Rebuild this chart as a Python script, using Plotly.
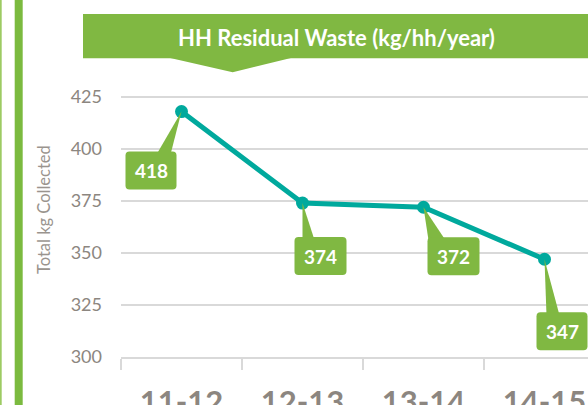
import plotly.graph_objects as go

# ---- data ----
categories = ["11-12", "12-13", "13-14", "14-15"]
values = [418, 374, 372, 347]
y_ticks = [300, 325, 350, 375, 400, 425]
title_text = "HH Residual Waste (kg/hh/year)"
y_title = "Total kg Collected"

# ---- style / layout ----
W, H = 588, 405
ML, MR, MT, MB = 121, 0, 70, 48
PW, PH = W - ML - MR, H - MT - MB
GREEN = "#80B842"
TEAL = "#00A99D"
GRAY = "#8C8680"
GRID = "#D9D9D9"

def px(x):
    return (x - ML) / PW

def py(y):
    return (H - MB - y) / PH

# label boxes: (left, right, top, bottom) in screen px relative to point; wedge base x offsets
box_offsets = [(-56, -5, 40, 78), (-8, 44, 34, 72), (4, 56, 30, 68), (-8, 43, 53, 91)]
wedge_offsets = [(-25, -11), (0, 12), (5, 22), (2, 15)]

fig = go.Figure()
fig.add_trace(go.Scatter(
    x=categories, y=values, mode="lines+markers",
    line=dict(color=TEAL, width=5),
    marker=dict(color=TEAL, size=13),
    hoverinfo="skip", cliponaxis=False,
))

shapes = []
annotations = []

# decorative left bars
shapes.append(dict(type="rect", xref="paper", yref="paper", x0=px(0), x1=px(1.7), y0=py(H), y1=py(0),
                   fillcolor="#9DCB63", line=dict(width=0), layer="above"))
shapes.append(dict(type="rect", xref="paper", yref="paper", x0=px(14.7), x1=px(22.7), y0=py(H), y1=py(0),
                   fillcolor="#7BBA3F", line=dict(width=0), layer="above"))

# title banner
shapes.append(dict(type="rect", xref="paper", yref="paper", x0=px(83), x1=px(W), y0=py(58.3), y1=py(14),
                   fillcolor=GREEN, line=dict(width=0), layer="above"))
shapes.append(dict(type="path", xref="paper", yref="paper",
                   path=f"M {px(168)},{py(57.5)} L {px(232.7)},{py(72.3)} L {px(293)},{py(57.5)} Z",
                   fillcolor=GREEN, line=dict(width=0), layer="above"))
annotations.append(dict(xref="paper", yref="paper", x=px(336), y=py(37.5), text=f"<b>{title_text}</b>",
                        showarrow=False, xanchor="center", yanchor="middle",
                        font=dict(family="Lato", size=22, color="white")))

# y axis title
annotations.append(dict(xref="paper", yref="paper", x=px(44), y=py(210), text=y_title, textangle=-90,
                        showarrow=False, xanchor="center", yanchor="middle",
                        font=dict(family="Lato", size=16.5, color="#9A948E")))

def rounded_rect(x0, x1, t, b, r=4):
    # screen coords (y down) -> pixel offsets (y up)
    T, B = -t, -b
    return (f"M {x0 + r},{T} L {x1 - r},{T} Q {x1},{T} {x1},{T - r} "
            f"L {x1},{B + r} Q {x1},{B} {x1 - r},{B} L {x0 + r},{B} Q {x0},{B} {x0},{B + r} "
            f"L {x0},{T - r} Q {x0},{T} {x0 + r},{T} Z")

for cat, val, (bl, br, bt, bb), (wa, wb) in zip(categories, values, box_offsets, wedge_offsets):
    shapes.append(dict(type="path", xref="x", yref="y", xsizemode="pixel", ysizemode="pixel",
                       xanchor=cat, yanchor=val,
                       path=f"M 0,0 L {wa},{-(bt + 3)} L {wb},{-(bt + 3)} Z",
                       fillcolor=GREEN, line=dict(width=0), layer="above"))
    shapes.append(dict(type="path", xref="x", yref="y", xsizemode="pixel", ysizemode="pixel",
                       xanchor=cat, yanchor=val, path=rounded_rect(bl, br, bt, bb),
                       fillcolor=GREEN, line=dict(width=0), layer="above"))
    annotations.append(dict(x=cat, y=val, xref="x", yref="y", text=f"<b>{val}</b>", showarrow=False,
                            xshift=(bl + br) / 2, yshift=-(bt + bb) / 2,
                            xanchor="center", yanchor="middle",
                            font=dict(family="Lato", size=19, color="white")))

fig.update_layout(
    width=W, height=H,
    margin=dict(l=ML, r=MR, t=MT, b=MB, autoexpand=False),
    paper_bgcolor="white", plot_bgcolor="white",
    showlegend=False,
    shapes=shapes, annotations=annotations,
    xaxis=dict(
        type="category", range=[-0.5, -0.5 + PW / 121.0], automargin=False,
        tickson="boundaries", ticks="outside", ticklen=11, tickwidth=1.5, tickcolor=GRID,
        showline=True, linecolor=GRID, linewidth=1.5, showgrid=False,
        tickfont=dict(family="Lato", size=31, color=GRAY),
        tickprefix="<b>", ticksuffix="</b>",
        ticklabelstandoff=17,
    ),
    yaxis=dict(
        range=[300, 300 + PH / 2.08], tickvals=y_ticks, automargin=False,
        showgrid=True, gridcolor=GRID, gridwidth=1.5, zeroline=False, showline=False,
        ticks="", tickfont=dict(family="Lato", size=18, color=GRAY),
        ticklabelstandoff=18,
    ),
)

fig.write_html(
    "out.html",
    config={"displayModeBar": False},
    post_script="document.body.style.margin='0';document.body.style.overflow='hidden';",
)
